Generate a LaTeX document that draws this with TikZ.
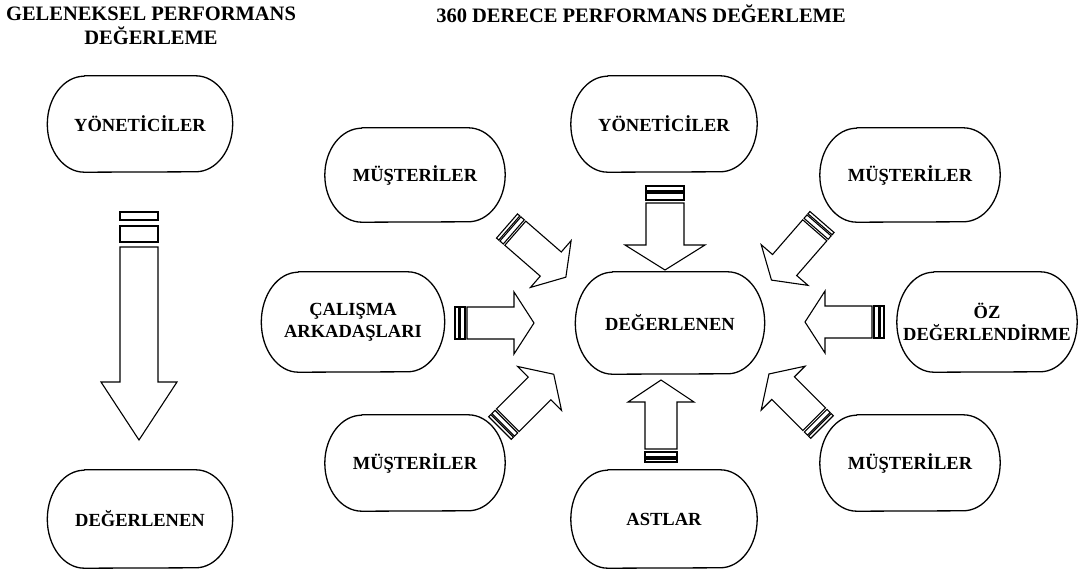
\documentclass[tikz,border=0pt]{standalone}
\usepackage{fontspec}
\setmainfont{Liberation Serif}
\usetikzlibrary{calc}
\tikzset{
  boxline/.style={line width=1.3pt, line join=round},
  boxtext/.style={align=center, inner sep=0pt, font=\bfseries\fontsize{18.5}{22}\selectfont},
  titletext/.style={align=center, inner sep=0pt, font=\bfseries\fontsize{20.5}{24}\selectfont},
  arrowline/.style={line width=1.1pt, line join=miter},
}
\pgfkeys{/sa/.cd,
  L/.initial=79, s/.initial=16, H/.initial=31, hl/.initial=20,
  a/.initial=4, b/.initial=5, c/.initial=10, d/.initial=12}
% striped block arrow: [keys]{tail coordinate}{angle}
\newcommand\stripedarrow[3][]{%
  \begingroup
  \pgfkeys{/sa/.cd,#1}%
  \pgfkeysgetvalue{/sa/L}\sL \pgfkeysgetvalue{/sa/s}\sS
  \pgfkeysgetvalue{/sa/H}\sH \pgfkeysgetvalue{/sa/hl}\sHL
  \pgfkeysgetvalue{/sa/a}\sA \pgfkeysgetvalue{/sa/b}\sB
  \pgfkeysgetvalue{/sa/c}\sC \pgfkeysgetvalue{/sa/d}\sD
  \begin{scope}[shift={(#2)}, rotate=#3]
    \draw[arrowline] (0,-\sS) rectangle (\sA,\sS);
    \draw[arrowline] (\sB,-\sS) rectangle (\sC,\sS);
    \draw[arrowline] (\sD,-\sS) -- (\sL-\sHL,-\sS) -- (\sL-\sHL,-\sH) -- (\sL,0)
       -- (\sL-\sHL,\sH) -- (\sL-\sHL,\sS) -- (\sD,\sS) -- cycle;
  \end{scope}
  \endgroup}
% box with curved sides: {name}{center}{width}{height}{text}
\newcommand\pbox[5]{%
  \node[boxtext, minimum width=#3pt, minimum height=#4pt] (#1) at (#2) {#5};
  \draw[boxline] ([xshift=37pt]#1.north west) -- ([xshift=-37pt]#1.north east)
    arc[start angle=90, end angle=-90, x radius=37pt, y radius=#4pt/2]
    -- ([xshift=37pt]#1.south west)
    arc[start angle=270, end angle=90, x radius=37pt, y radius=#4pt/2] -- cycle;}
\begin{document}
\begin{tikzpicture}[x=1pt, y=-1pt]
\useasboundingbox (0,0) rectangle (1079,577);
% titles
\node[titletext] (t1) at (151,26) {GELENEKSEL PERFORMANS\\DEĞERLEME};
\node[titletext] (t2) at (641,14) {360 DERECE PERFORMANS DEĞERLEME};
% boxes
\pbox{lyon}{140,124}{185}{96}{YÖNETİCİLER}
\pbox{ldeg}{140,519}{185}{98}{DEĞERLENEN}
\pbox{cyon}{664,124}{186}{96}{YÖNETİCİLER}
\pbox{cdeg}{670,323}{189}{102}{DEĞERLENEN}
\pbox{astlar}{664,519}{186}{98}{ASTLAR}
\pbox{mtl}{415,175}{180}{94}{MÜŞTERİLER}
\pbox{calis}{353,322}{183}{100}{ÇALIŞMA\\ARKADAŞLARI}
\pbox{mbl}{415,463}{180}{96}{MÜŞTERİLER}
\pbox{mtr}{910,175}{180}{94}{MÜŞTERİLER}
\pbox{oz}{987,322}{180}{100}{ÖZ\\DEĞERLENDİRME}
\pbox{mbr}{910,463}{180}{96}{MÜŞTERİLER}
% arrow tails
\coordinate (abig) at (139,212);
\coordinate (actop) at (665,186);
\coordinate (acbot) at (661,462);
\coordinate (aleft) at (455,323);
\coordinate (aright) at (884,322);
\coordinate (atl) at (507,226);
\coordinate (atr) at (822,222);
\coordinate (abl) at (500,428);
\coordinate (abr) at (822,427);
% arrows
\stripedarrow[L=228, s=19, H=38, hl=58, a=8, b=14, c=30, d=35]{abig}{-90}
\stripedarrow[L=84, s=19, H=40, hl=25, a=5, b=7, c=14, d=17]{actop}{-90}
\stripedarrow[L=82, s=16, H=33, hl=22, a=3, b=5, c=10, d=13]{acbot}{90}
\stripedarrow{aleft}{0}
\stripedarrow{aright}{180}
\stripedarrow[L=78, a=3, b=4.5, c=9, d=11]{atl}{-41}
\stripedarrow[L=77, a=3, b=4.5, c=9, d=11]{atr}{-131}
\stripedarrow[L=76, a=3, b=4.5, c=9, d=11]{abl}{45}
\stripedarrow[L=75, a=3, b=4.5, c=9, d=11]{abr}{135}
\end{tikzpicture}
\end{document}
